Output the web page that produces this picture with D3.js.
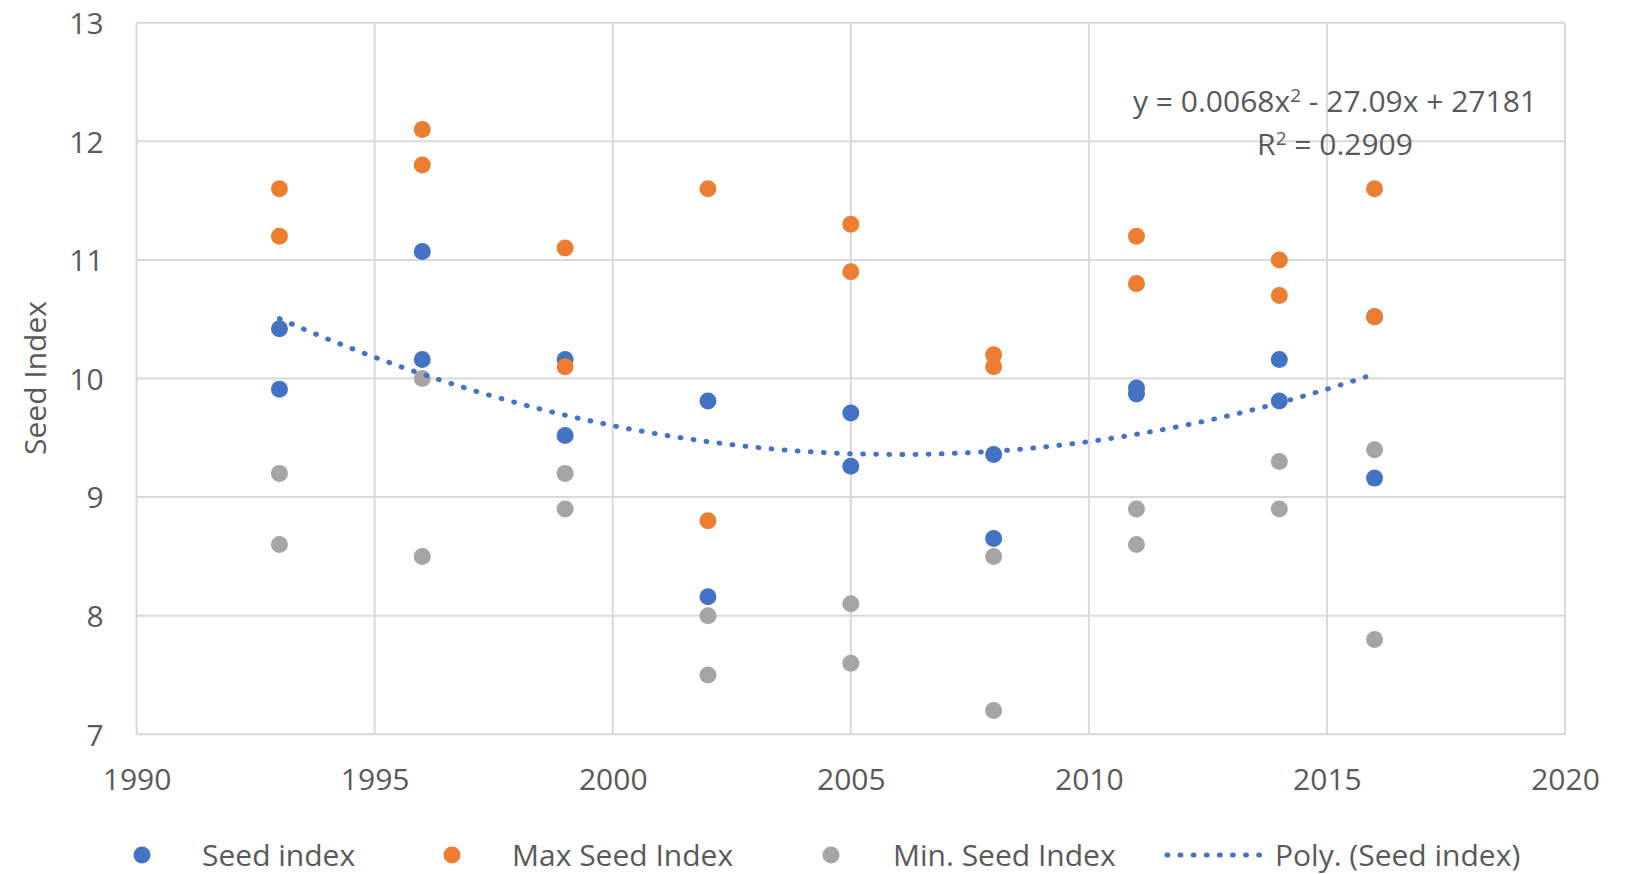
<!DOCTYPE html>
<html>
<head>
<meta charset="utf-8">
<script src="https://cdn.jsdelivr.net/npm/d3@7/dist/d3.min.js"></script>
<style>
  html, body { margin: 0; padding: 0; background: #ffffff; }
  svg { display: block; }
  text { font-family: "Open Sans", "Noto Sans", sans-serif; fill: #595959; }
</style>
</head>
<body>
<div id="chart"></div>
<script>
// ---- data ----
const years = [1993, 1996, 1999, 2002, 2005, 2008, 2011, 2014, 2016];
const seedA = [10.42, 11.07, 10.16, 9.81, 9.71, 9.36, 9.92, 10.16, 9.16];
const seedB = [9.91, 10.16, 9.52, 8.16, 9.26, 8.65, 9.87, 9.81, 10.52];
const maxA  = [11.6, 12.1, 11.1, 11.6, 11.3, 10.2, 11.2, 11.0, 11.6];
const maxB  = [11.2, 11.8, 10.1, 8.8, 10.9, 10.1, 10.8, 10.7, 10.52];
const minA  = [9.2, 10.0, 9.2, 8.0, 8.1, 8.5, 8.9, 9.3, 9.4];
const minB  = [8.6, 8.5, 8.9, 7.5, 7.6, 7.2, 8.6, 8.9, 7.8];
const xTicks = [1990, 1995, 2000, 2005, 2010, 2015, 2020];
const yTicks = [7, 8, 9, 10, 11, 12, 13];
const seriesNames = ["Seed index", "Max Seed Index", "Min. Seed Index", "Poly. (Seed index)"];
const eqLine1 = "y = 0.0068x";
const eqLine1b = " - 27.09x + 27181";
const eqLine2 = " = 0.2909";

const W = 1627, H = 874;
const colors = { seed: "#4472C4", max: "#ED7D31", min: "#A5A5A5" };

const svg = d3.select("#chart").append("svg").attr("width", W).attr("height", H);

const x = d3.scaleLinear().domain([1990, 2020]).range([136.6, 1565]);
const y = d3.scaleLinear().domain([7, 13]).range([734.3, 22.7]);

// gridlines
const grid = svg.append("g");
grid.selectAll("line.gx").data(xTicks).join("line")
  .attr("x1", d => x(d)).attr("x2", d => x(d))
  .attr("y1", y(13)).attr("y2", y(7))
  .attr("stroke", "#d9d9d9").attr("stroke-width", 2);
grid.selectAll("line.gy").data(yTicks).join("line")
  .attr("x1", x(1990)).attr("x2", x(2020))
  .attr("y1", d => y(d)).attr("y2", d => y(d))
  .attr("stroke", "#d9d9d9").attr("stroke-width", 2);

// axes (labels only)
const xAxis = d3.axisBottom(x).tickValues(xTicks).tickFormat(d3.format("d")).tickSize(0).tickPadding(0);
const gx = svg.append("g").attr("transform", `translate(0,${y(7)})`).call(xAxis);
gx.select(".domain").remove();
gx.selectAll("text").attr("dy", null).attr("y", 56).style("font-size", "30px").attr("fill", "#595959");

const yAxis = d3.axisLeft(y).tickValues(yTicks).tickFormat(d3.format("d")).tickSize(0).tickPadding(0);
const gy = svg.append("g").attr("transform", `translate(${x(1990)},0)`).call(yAxis);
gy.select(".domain").remove();
gy.selectAll("text").attr("x", -33).attr("dy", "0.36em").style("font-size", "30px").attr("fill", "#595959");

// y title
svg.append("text")
  .attr("transform", `translate(46,378) rotate(-90)`)
  .attr("text-anchor", "middle")
  .style("font-size", "30px")
  .text("Seed Index");

// points
function pts(a, b) {
  const out = [];
  years.forEach((yr, i) => { out.push({ x: yr, y: a[i] }); out.push({ x: yr, y: b[i] }); });
  return out;
}
const seedPts = pts(seedA, seedB);
const maxPts = pts(maxA, maxB);
const minPts = pts(minA, minB);
const R = 8.5;

function drawPts(data, color) {
  svg.append("g").selectAll("circle").data(data).join("circle")
    .attr("cx", d => x(d.x)).attr("cy", d => y(d.y)).attr("r", R).attr("fill", color);
}
drawPts(minPts, colors.min);
drawPts(seedPts, colors.seed);
drawPts(maxPts, colors.max);

// polynomial (order 2) least-squares trendline of the Seed index series
function polyFit(data) {
  const x0 = 2005;
  let S = [0, 0, 0, 0, 0], T = [0, 0, 0];
  data.forEach(p => {
    const t = p.x - x0;
    for (let k = 0; k <= 4; k++) S[k] += Math.pow(t, k);
    for (let k = 0; k <= 2; k++) T[k] += Math.pow(t, k) * p.y;
  });
  const M = [[S[0], S[1], S[2], T[0]], [S[1], S[2], S[3], T[1]], [S[2], S[3], S[4], T[2]]];
  for (let i = 0; i < 3; i++) {
    for (let j = i + 1; j < 3; j++) {
      const f = M[j][i] / M[i][i];
      for (let k = i; k < 4; k++) M[j][k] -= f * M[i][k];
    }
  }
  const c = [0, 0, 0];
  for (let i = 2; i >= 0; i--) {
    let s = M[i][3];
    for (let k = i + 1; k < 3; k++) s -= M[i][k] * c[k];
    c[i] = s / M[i][i];
  }
  return xv => { const t = xv - x0; return c[0] + c[1] * t + c[2] * t * t; };
}
const fit = polyFit(seedPts);
const xMin = d3.min(years), xMax = d3.max(years);
const trendData = d3.range(0, 101).map(i => { const xv = xMin + (xMax - xMin) * i / 100; return { x: xv, y: fit(xv) }; });
const line = d3.line().x(d => x(d.x)).y(d => y(d.y));
svg.append("path").datum(trendData)
  .attr("d", line)
  .attr("fill", "none")
  .attr("stroke", colors.seed)
  .attr("stroke-width", 5)
  .attr("stroke-linecap", "round")
  .attr("stroke-dasharray", "0.8 12.3");

// equation label
const eq = svg.append("text").attr("x", 1335).attr("y", 112).attr("text-anchor", "middle").style("font-size", "30px");
eq.append("tspan").text(eqLine1);
eq.append("tspan").attr("dy", -10).style("font-size", "19px").text("2");
eq.append("tspan").attr("dy", 10).text(eqLine1b);
const eq2 = svg.append("text").attr("x", 1335).attr("y", 155).attr("text-anchor", "middle").style("font-size", "30px");
eq2.append("tspan").text("R");
eq2.append("tspan").attr("dy", -10).style("font-size", "19px").text("2");
eq2.append("tspan").attr("dy", 10).text(eqLine2);

// legend
const legY = 855;
const legend = svg.append("g");
const legItems = [
  { type: "dot", color: colors.seed, mx: 142, tx: 202, name: seriesNames[0] },
  { type: "dot", color: colors.max, mx: 452, tx: 512, name: seriesNames[1] },
  { type: "dot", color: colors.min, mx: 831, tx: 893, name: seriesNames[2] },
  { type: "line", color: colors.seed, mx: 1167, mx2: 1268, tx: 1275, name: seriesNames[3] }
];
legItems.forEach(it => {
  if (it.type === "dot") {
    legend.append("circle").attr("cx", it.mx).attr("cy", legY).attr("r", R).attr("fill", it.color);
  } else {
    legend.append("line").attr("x1", it.mx).attr("x2", it.mx2).attr("y1", legY).attr("y2", legY)
      .attr("stroke", it.color).attr("stroke-width", 5).attr("stroke-linecap", "round")
      .attr("stroke-dasharray", "0.8 12.3");
  }
  legend.append("text").attr("x", it.tx).attr("y", legY + 11).style("font-size", "30px").text(it.name);
});
</script>
</body>
</html>
